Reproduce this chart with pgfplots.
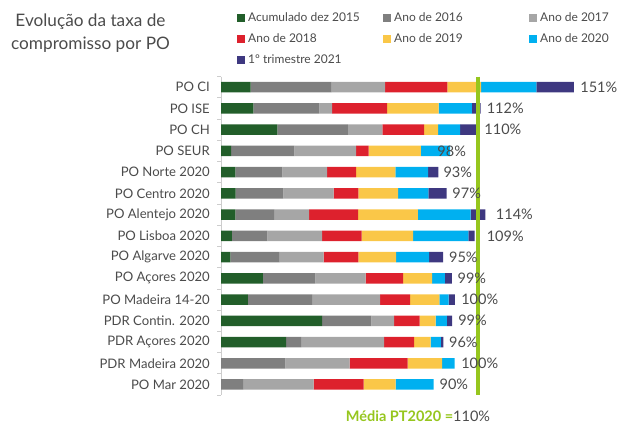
\documentclass[border=0pt]{standalone}
\usepackage{pgfplots}
\usepackage{pgfplotstable}
\pgfplotsset{compat=1.18}
\usepackage{fontspec}
\setmainfont{Lato}

\definecolor{c15}{RGB}{34,94,42}
\definecolor{c16}{RGB}{127,127,127}
\definecolor{c17}{RGB}{166,166,166}
\definecolor{c18}{RGB}{221,33,45}
\definecolor{c19}{RGB}{250,199,72}
\definecolor{c20}{RGB}{0,176,240}
\definecolor{c21}{RGB}{62,56,128}
\definecolor{mgreen}{RGB}{150,198,30}
\definecolor{txt}{RGB}{75,75,75}
\definecolor{axgray}{RGB}{205,205,205}

% share of commitment added each year, per programme (row 0 = PO CI, top)
\pgfplotstableread{
y  a15  a16  a17  a18  a19  a20  a21
0  12.7 34.6 22.9 26.6 14.5 23.6 16.0
1  13.8 28.3 5.4  23.5 22.1 14.2 3.7
2  24.1 30.2 14.7 17.9 6.0  9.4  7.5
3  4.3  27.1 26.4 5.3  22.4 12.5 0
4  6.1  20.2 19.1 12.4 16.8 14.0 4.4
5  6.3  20.4 21.5 10.5 17.0 13.0 7.8
6  6.1  16.8 14.8 20.9 25.6 22.6 6.3
7  4.6  15.2 23.5 16.8 22.1 23.6 2.7
8  4.0  21.1 18.8 14.8 16.2 14.1 6.0
9  17.9 22.5 21.4 16.1 12.4 5.4  3.0
10 11.5 27.5 29.1 12.8 12.5 4.0  2.6
11 43.2 21.1 9.7  11.0 6.8  4.8  2.3
12 27.9 6.4  35.5 12.8 7.0  4.4  1.1
13 0    27.5 27.5 24.8 14.8 5.3  0
14 0    9.5  30.1 21.4 13.7 16.2 0
}\shares

% total labels (x = where the label starts)
\pgfplotstableread{
y  x     lab
0  153.6 151\%
1  113.6 112\%
2  112.6 110\%
3  92.5  98\%
4  95.1  93\%
5  98.9  97\%
6  117.5 114\%
7  113.6 109\%
8  97.5  95\%
9  101.1 99\%
10 102.7 100\%
11 101.4 99\%
12 97.5  96\%
13 102.7 100\%
14 93.4  90\%
}\totals

\newcommand{\lent}[1]{\makebox[135pt][l]{#1}}

\begin{document}
\begin{tikzpicture}
\useasboundingbox (0,0) rectangle (617pt,423pt);

\node[font=\fontsize{17.2}{23.3}\selectfont, text=txt, align=center] at (90.5pt,389.7pt)
  {Evolução da taxa de\\compromisso por PO};

\begin{axis}[
    at={(221pt,27.9pt)}, anchor=south west,
    scale only axis, width=374.1pt, height=318.5pt,
    xbar stacked, bar width=10.5pt,
    xmin=0, xmax=160, ymin=-0.5, ymax=14.5, y dir=reverse,
    axis x line=none, axis y line*=left,
    axis line style={draw=axgray, line width=0.8pt},
    ytick={0,...,14},
    yticklabels={PO CI, PO ISE\hspace{3pt}, PO CH, PO SEUR, PO Norte 2020,
      PO Centro 2020, PO Alentejo 2020, PO Lisboa 2020, PO Algarve 2020,
      PO Açores 2020, PO Madeira 14-20, PDR Contin. 2020, PDR Açores 2020,
      PDR Madeira 2020, PO Mar 2020},
    minor ytick={-0.5,0.5,...,14.5},
    major tick length=0pt, minor tick length=4pt, tick align=outside,
    tick style={draw=axgray, line width=0.8pt},
    yticklabel style={font=\fontsize{13.1}{15}\selectfont, text=txt,
      inner sep=0pt, xshift=-11pt},
    legend columns=3, legend cell align=left,
    legend image code/.code={\fill[#1] (0pt,-4pt) rectangle (8pt,4pt);},
    legend style={at={(0.0428,1.2013)}, anchor=north west, draw=none, fill=none,
      inner sep=0pt, font=\fontsize{12}{14}\selectfont, text=txt, row sep=10.5pt,
      nodes={inner sep=0pt, text height=8.5pt, text depth=2pt},
      /tikz/every odd column/.append style={column sep=3pt}},
    every axis plot/.append style={draw=none},
]
\addplot[fill=c15] table[x=a15, y=y] {\shares};
\addlegendentry{\lent{Acumulado dez 2015}}
\addplot[fill=c16] table[x=a16, y=y] {\shares};
\addlegendentry{\lent{Ano de 2016}}
\addplot[fill=c17] table[x=a17, y=y] {\shares};
\addlegendentry{\lent{Ano de 2017}}
\addplot[fill=c18] table[x=a18, y=y] {\shares};
\addlegendentry{\lent{Ano de 2018}}
\addplot[fill=c19] table[x=a19, y=y] {\shares};
\addlegendentry{\lent{Ano de 2019}}
\addplot[fill=c20] table[x=a20, y=y] {\shares};
\addlegendentry{\lent{Ano de 2020}}
\addplot[fill=c21] table[x=a21, y=y] {\shares};
\addlegendentry{\lent{1º trimestre 2021}}
\end{axis}

\begin{axis}[
    at={(221pt,27.9pt)}, anchor=south west,
    scale only axis, width=374.1pt, height=318.5pt,
    xmin=0, xmax=160, ymin=-0.5, ymax=14.5, y dir=reverse,
    hide axis, clip=false,
]
\addplot[mgreen, line width=3.5pt] coordinates {(110,-0.5) (110,14.5)};
\addplot[draw=none, mark=none, nodes near coords, point meta=explicit symbolic,
    every node near coord/.append style={anchor=west, inner sep=0pt,
      font=\fontsize{14.5}{16}\selectfont, text=txt}]
  table[x=x, y=y, meta=lab] {\totals};
\end{axis}

\node[font=\fontsize{14.5}{16}\selectfont, anchor=center] at (418pt,7pt)
  {\textcolor{mgreen}{\bfseries Média PT2020 =}\textcolor{txt}{110\%}};
\end{tikzpicture}
\end{document}
